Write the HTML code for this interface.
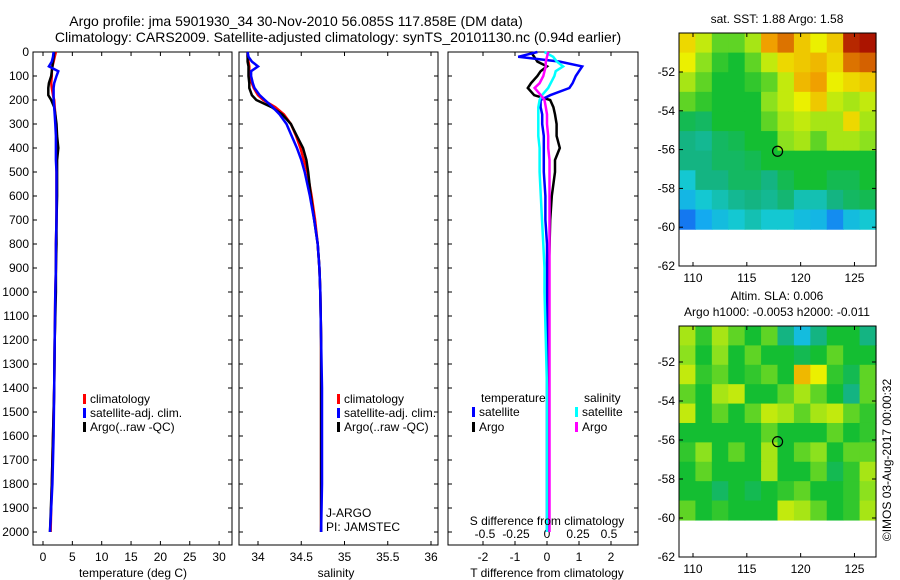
<!DOCTYPE html>
<html><head><meta charset="utf-8"><style>
body{margin:0;background:#fff}
svg{display:block;font-family:"Liberation Sans",sans-serif;font-size:12px}
</style></head><body>
<svg id="chart" width="900" height="580" viewBox="0 0 900 580">
<text x="296" y="26" text-anchor="middle" style="font-size:14px">Argo profile: jma 5901930_34 30-Nov-2010 56.085S 117.858E (DM data)</text>
<text x="338" y="42" text-anchor="middle" style="font-size:14px">Climatology: CARS2009. Satellite-adjusted climatology: synTS_20101130.nc (0.94d earlier)</text>
<g id="g"></g>
</svg>
<script>
const depthTicks=[0,100,200,300,400,500,600,700,800,900,1000,1100,1200,1300,1400,1500,1600,1700,1800,1900,2000];
const tempTicks=[0,5,10,15,20,25,30];
const salTicks=[34,34.5,35,35.5,36];
const tdTicks=[-2,-1,0,1,2];
const sdTicks=[-0.5,-0.25,0,0.25,0.5];
const depths=[0,20,40,60,80,100,130,150,180,200,230,260,300,350,400,450,500,600,700,800,900,1000,1200,1400,1600,1800,2000];
const tempClim=[2.2,2.0,1.8,1.6,1.5,1.5,1.4,1.5,1.7,1.9,2.0,2.1,2.2,2.3,2.3,2.3,2.3,2.3,2.3,2.2,2.2,2.1,2.0,1.9,1.7,1.5,1.3];
const tempSat=[1.8,1.7,1.5,1.0,2.6,2.3,1.9,1.8,1.8,1.8,1.9,2.0,2.1,2.2,2.2,2.2,2.3,2.3,2.3,2.2,2.2,2.1,2.0,1.9,1.8,1.6,1.2];
const tempArgo=[1.9,1.8,1.7,1.6,1.5,1.4,1.0,0.9,0.9,1.4,1.9,2.1,2.3,2.4,2.6,2.4,2.4,2.4,2.3,2.3,2.2,2.2,2.0,1.9,1.7,1.5,1.2];
const salClim=[33.88,33.88,33.89,33.9,33.9,33.91,33.93,33.95,34.0,34.06,34.2,34.3,34.38,34.44,34.49,34.53,34.57,34.62,34.66,34.69,34.71,34.72,34.73,34.73,34.73,34.73,34.73];
const salSat=[33.88,33.89,33.93,34.0,33.92,33.92,33.94,33.96,34.02,34.08,34.17,34.25,34.33,34.39,34.45,34.5,34.54,34.6,34.65,34.69,34.71,34.72,34.73,34.74,34.74,34.74,34.73];
const salArgo=[33.88,33.88,33.88,33.89,33.89,33.89,33.9,33.9,33.93,33.98,34.16,34.28,34.38,34.45,34.52,34.56,34.58,34.61,34.65,34.69,34.71,34.72,34.73,34.73,34.73,34.73,34.73];
const tdSat=[-0.3,-0.9,0.4,1.1,1.0,0.9,0.8,0.7,0.1,-0.2,-0.2,-0.15,-0.15,-0.1,-0.1,-0.1,-0.1,-0.05,-0.05,0,0,0,0,0,0,0,0];
const tdArgo=[-0.5,-0.4,-0.3,0,-0.2,-0.3,-0.5,-0.6,-0.4,0.1,0.2,0.25,0.3,0.3,0.4,0.25,0.25,0.15,0.1,0.08,0.06,0.05,0.03,0.02,0.02,0.02,0.02];
const sdSat=[-0.02,0.05,0.08,0.13,0.07,0.06,0.03,0.01,-0.04,-0.06,-0.07,-0.07,-0.07,-0.07,-0.06,-0.06,-0.06,-0.05,-0.04,-0.03,-0.02,-0.02,-0.01,0,0,0,0];
const sdArgo=[0.01,0,-0.01,-0.01,-0.02,-0.03,-0.06,-0.1,-0.05,-0.02,-0.01,0,0,0.01,0.01,0.02,0.02,0.02,0.02,0.02,0.02,0.02,0.02,0.02,0.02,0.02,0.02];
const lonTicks=[110,115,120,125];
const latTicks=[-52,-54,-56,-58,-60,-62];
const sstGrid=[
[.68,.62,.55,.55,.6,.75,.8,.7,.65,.7,.88,.9],
[.65,.58,.52,.5,.55,.62,.68,.7,.72,.68,.8,.82],
[.6,.55,.5,.5,.52,.55,.62,.72,.75,.65,.68,.7],
[.55,.52,.5,.5,.5,.58,.62,.65,.7,.62,.6,.62],
[.48,.47,.5,.5,.5,.55,.6,.62,.6,.6,.68,.6],
[.45,.44,.47,.48,.5,.5,.58,.6,.55,.6,.6,.58],
[.45,.45,.47,.47,.48,.5,.5,.5,.5,.5,.5,.5],
[.4,.45,.45,.47,.47,.45,.48,.5,.5,.48,.48,.5],
[.37,.4,.42,.44,.45,.44,.46,.42,.42,.45,.47,.48],
[.3,.35,.38,.4,.42,.4,.4,.38,.37,.32,.38,.4]];
const slaGrid=[
[.6,.52,.6,.55,.5,.55,.45,.38,.45,.5,.5,.45],
[.58,.5,.58,.5,.55,.5,.5,.48,.5,.55,.5,.5],
[.62,.52,.55,.5,.52,.55,.5,.72,.65,.52,.48,.55],
[.55,.5,.6,.62,.5,.5,.55,.6,.55,.5,.45,.55],
[.62,.5,.55,.5,.55,.62,.6,.55,.6,.62,.55,.52],
[.5,.5,.5,.5,.5,.55,.5,.5,.5,.55,.5,.52],
[.52,.58,.5,.55,.5,.6,.5,.55,.58,.5,.55,.55],
[.5,.55,.5,.5,.5,.6,.5,.5,.55,.48,.52,.6],
[.5,.5,.47,.5,.48,.5,.52,.55,.5,.5,.52,.58],
[.55,.5,.52,.5,.5,.5,.62,.6,.55,.5,.52,.6]];
const argoLon=117.858, argoLat=-56.085;

const NS='http://www.w3.org/2000/svg';
const G=document.getElementById('g');
function el(t,a,p){const e=document.createElementNS(NS,t);for(const k in a)e.setAttribute(k,a[k]);(p||G).appendChild(e);return e;}
function txt(x,y,s,anc,p){const e=el('text',{x:x,y:y,'text-anchor':anc||'middle'},p);e.textContent=s;return e;}
const yD=d=>52+d*0.24;
const xT=v=>43+v*5.87;
const xS=v=>258+(v-34)*86.5;
const xTD=v=>547+v*32;
const xSD=v=>547+v*124;
const YB=545;

function panel(name,x0,x1,ticks,xf,showDepth,tickLabY){
  const r=el('rect',{x:x0,y:52,width:x1-x0,height:YB-52,fill:'none',stroke:'#000','stroke-width':1});
  
  
  depthTicks.forEach(d=>{el('line',{x1:x0,x2:x0+4,y1:yD(d),y2:yD(d),stroke:'#000'});el('line',{x1:x1-4,x2:x1,y1:yD(d),y2:yD(d),stroke:'#000'});
    if(showDepth){const t=txt(x0-4,yD(d)+4,String(d),'end');}});
  ticks.forEach(v=>{const x=xf(v);el('line',{x1:x,x2:x,y1:52,y2:56,stroke:'#000'});el('line',{x1:x,x2:x,y1:YB-4,y2:YB,stroke:'#000'});
    if(tickLabY){const t=txt(x,tickLabY,String(v));}});
}
function line(vals,xf,color,name){
  const pts=vals.map((v,i)=>xf(v).toFixed(1)+','+yD(depths[i]).toFixed(1)).join(' ');
  const p=el('polyline',{points:pts,fill:'none',stroke:color,'stroke-width':2.5});
  
  
}
panel('temperature-panel',33,232,tempTicks,xT,true,561);
panel('salinity-panel',239,438,salTicks,xS,false,561);
panel('difference-panel',448,638,tdTicks,xTD,false,561);
sdTicks.forEach(v=>{const t=txt(xSD(v),538,String(v));});

line(tempClim,xT,'#f00','temp-climatology-line');
line(tempArgo,xT,'#000','temp-argo-line');
line(tempSat,xT,'#00f','temp-satellite-line');
line(salClim,xS,'#f00','sal-climatology-line');
line(salArgo,xS,'#000','sal-argo-line');
line(salSat,xS,'#00f','sal-satellite-line');
line(tdArgo,xTD,'#000','tdiff-argo-line');
line(tdSat,xTD,'#00f','tdiff-satellite-line');
line(sdSat,xSD,'#0ff','sdiff-satellite-line');
line(sdArgo,xSD,'#f0f','sdiff-argo-line');

function leg(x,y,c,s,n){const r=el('rect',{x:x,y:y-9,width:3,height:10,fill:c});
  const t=txt(x+7,y,s,'start');}
leg(83,403,'#f00','climatology','legend-climatology');
leg(83,417,'#00f','satellite-adj. clim.','legend-satellite');
leg(83,431,'#000','Argo(..raw -QC)','legend-argo');
leg(337,403,'#f00','climatology','legend2-climatology');
leg(337,417,'#00f','satellite-adj. clim.','legend2-satellite');
leg(337,431,'#000','Argo(..raw -QC)','legend2-argo');
txt(481,402,'temperature','start');txt(584,402,'salinity','start');
leg(472,416,'#00f','satellite','legend3-t-satellite');
leg(472,431,'#000','Argo','legend3-t-argo');
leg(575,416,'#0ff','satellite','legend3-s-satellite');
leg(575,431,'#f0f','Argo','legend3-s-argo');
txt(326,517,'J-ARGO','start');txt(326,531,'PI: JAMSTEC','start');
txt(133,577,'temperature (deg C)');txt(336,577,'salinity');
txt(547,577,'T difference from climatology');txt(547,525,'S difference from climatology');

const stops=[[0.28,[20,100,240]],[0.35,[20,170,240]],[0.4,[20,200,210]],[0.45,[20,180,130]],[0.5,[20,190,50]],[0.58,[140,225,30]],[0.65,[235,240,0]],[0.75,[240,160,0]],[0.85,[200,70,0]],[0.92,[160,0,0]]];
function cmap(v){if(v<=stops[0][0])return 'rgb('+stops[0][1]+')';for(let i=1;i<stops.length;i++){if(v<=stops[i][0]){const a=stops[i-1],b=stops[i],f=(v-a[0])/(b[0]-a[0]);return 'rgb('+a[1].map((c,k)=>Math.round(c+(b[1][k]-c)*f)).join(',')+')';}}return 'rgb('+stops[stops.length-1][1]+')';}
const lonMin=108.7,lonMax=127;
function map(name,yFrame,yM52,dy,grid,titles){
  const xL=lon=>679+(lon-lonMin)/(lonMax-lonMin)*197;
  const yL=lat=>yM52+(-52-lat)*dy;
  const yBot=yL(-62);
  const rows=grid.length, cols=grid[0].length;
  const cw=197/cols, ch=(yL(-60.1)-yFrame)/rows;
  grid.forEach((row,i)=>row.forEach((v,j)=>{const c=el('rect',{x:679+j*cw,y:yFrame+i*ch,width:cw+0.6,height:ch+0.6,fill:cmap(v)});
    }));
  const f=el('rect',{x:679,y:yFrame,width:197,height:yBot-yFrame,fill:'none',stroke:'#000'});
  
  lonTicks.forEach(l=>{const x=xL(l);el('line',{x1:x,x2:x,y1:yFrame,y2:yFrame+4,stroke:'#000'});el('line',{x1:x,x2:x,y1:yBot-4,y2:yBot,stroke:'#000'});txt(x,yBot+16,String(l));});
  latTicks.forEach(l=>{const y=yL(l);el('line',{x1:679,x2:683,y1:y,y2:y,stroke:'#000'});el('line',{x1:872,x2:876,y1:y,y2:y,stroke:'#000'});txt(675,y+4,String(l),'end');});
  const m=el('ellipse',{cx:xL(argoLon),cy:yL(argoLat),rx:5,ry:5,fill:'none',stroke:'#000','stroke-width':1.2});
  
  titles.forEach((t,i)=>{const e=txt(777,yFrame-10-(titles.length-1-i)*16,t);});
}
map('sst-map',33,72,19.4,sstGrid,['sat. SST: 1.88 Argo: 1.58']);
map('sla-map',326,362,19.5,slaGrid,['Altim. SLA: 0.006','Argo h1000: -0.0053 h2000: -0.011']);
const c=txt(0,0,'©IMOS 03-Aug-2017 00:00:32');c.setAttribute('transform','translate(891,460) rotate(-90)');

</script>
</body></html>
